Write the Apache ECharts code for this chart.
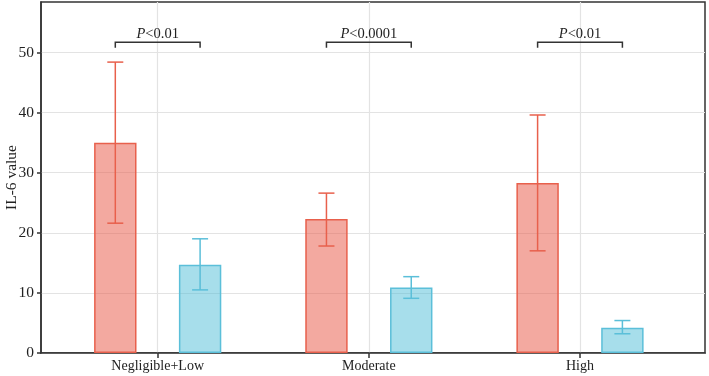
<!DOCTYPE html>
<html>
<head>
<meta charset="utf-8">
<script src="https://cdn.jsdelivr.net/npm/echarts@6/dist/echarts.min.js"></script>
<style>
  html, body { margin: 0; padding: 0; background: #fff; }
  #main { width: 709px; height: 376px; }
</style>
</head>
<body>
<div id="main"></div>
<script>
// data
var categories = ['Negligible+Low', 'Moderate', 'High'];
var redMean = [35.0, 22.3, 28.3];
var redLow = [21.6, 17.8, 17.0];
var redHigh = [48.4, 26.6, 39.6];
var blueMean = [14.7, 10.9, 4.2];
var blueLow = [10.5, 9.1, 3.2];
var blueHigh = [19.0, 12.7, 5.4];
var pLabels = ['<0.01', '<0.0001', '<0.01'];
var bracketY = [51.7, 51.7, 51.7];
var yTicks = [0, 10, 20, 30, 40, 50];

var BAR_W = 42.4;
var RED = '#e8604c', BLUE = '#5bbfd9';
var FONT = 'Liberation Serif';
var Y_MAX = 58.4;

var chart = echarts.init(document.getElementById('main'));

function errData(lo, hi) {
  return categories.map(function (c, i) { return [i, lo[i], hi[i]]; });
}

function errorBar(offset, color) {
  return function (params, api) {
    var x = api.coord([api.value(0), 0])[0] + offset;
    var lo = api.coord([api.value(0), api.value(1)])[1];
    var hi = api.coord([api.value(0), api.value(2)])[1];
    var st = { stroke: color, lineWidth: 1.5 };
    return {
      type: 'group',
      children: [
        { type: 'line', shape: { x1: x, y1: lo, x2: x, y2: hi }, style: st },
        { type: 'line', shape: { x1: x - 8, y1: hi, x2: x + 8, y2: hi }, style: st },
        { type: 'line', shape: { x1: x - 8, y1: lo, x2: x + 8, y2: lo }, style: st }
      ]
    };
  };
}

var option = {
  animation: false,
  grid: [
    { left: 41, right: 4, top: 2, bottom: 23, show: true, borderColor: '#333', borderWidth: 1.5,
      outerBoundsMode: 'none', containLabel: false },
    { left: 157.7, right: 129, top: 2, bottom: 23, outerBoundsMode: 'none', containLabel: false }
  ],
  xAxis: [
    {
      gridIndex: 0, type: 'value', min: 0, max: 1,
      axisLine: { show: true, onZero: false, lineStyle: { color: '#333', width: 1.5 } },
      axisTick: { show: false }, axisLabel: { show: false }, splitLine: { show: false }
    },
    {
      gridIndex: 1, type: 'category', data: categories, boundaryGap: false,
      axisLine: { show: false },
      axisTick: { show: true, length: 5, lineStyle: { color: '#333', width: 1.5 } },
      axisLabel: { color: '#222', fontFamily: FONT, fontSize: 14, margin: 6 },
      splitLine: { show: true, lineStyle: { color: '#e3e3e3', width: 1.2 } }
    }
  ],
  yAxis: [
    {
      gridIndex: 0, type: 'value', min: 0, max: Y_MAX, interval: 10,
      name: 'IL-6 value', nameLocation: 'middle', nameGap: 21, nameMoveOverlap: false,
      nameTextStyle: { color: '#222', fontFamily: FONT, fontSize: 15.5 },
      axisLine: { show: true, lineStyle: { color: '#333', width: 1.5 } },
      axisTick: { show: true, length: 4, lineStyle: { color: '#333', width: 1.5 } },
      axisLabel: {
        color: '#222', fontFamily: FONT, fontSize: 15.5, margin: 7, showMaxLabel: false,
        formatter: function (v) { return yTicks.indexOf(v) >= 0 ? v : ''; }
      },
      splitLine: { show: true, showMaxLine: false, lineStyle: { color: '#e3e3e3', width: 1.2 } }
    },
    {
      gridIndex: 1, type: 'value', min: 0, max: Y_MAX,
      axisLine: { show: false }, axisTick: { show: false },
      axisLabel: { show: false }, splitLine: { show: false }
    }
  ],
  series: [
    {
      type: 'bar', xAxisIndex: 1, yAxisIndex: 1, data: redMean,
      barWidth: BAR_W, barGap: '100%', clip: false,
      itemStyle: { color: 'rgba(232,90,72,0.52)', borderColor: RED, borderWidth: 1.5 }
    },
    {
      type: 'bar', xAxisIndex: 1, yAxisIndex: 1, data: blueMean,
      barWidth: BAR_W, barGap: '100%', clip: false,
      itemStyle: { color: 'rgba(80,190,215,0.5)', borderColor: BLUE, borderWidth: 1.5 }
    },
    {
      type: 'custom', xAxisIndex: 1, yAxisIndex: 1, z: 5, clip: false,
      data: errData(redLow, redHigh), renderItem: errorBar(-BAR_W, RED)
    },
    {
      type: 'custom', xAxisIndex: 1, yAxisIndex: 1, z: 5, clip: false,
      data: errData(blueLow, blueHigh), renderItem: errorBar(BAR_W, BLUE)
    },
    {
      type: 'custom', xAxisIndex: 1, yAxisIndex: 1, z: 6, clip: false,
      data: categories.map(function (c, i) { return [i, bracketY[i]]; }),
      renderItem: function (params, api) {
        var p = api.coord([api.value(0), api.value(1)]);
        var x1 = p[0] - BAR_W, x2 = p[0] + BAR_W, y = p[1];
        var st = { stroke: '#333', lineWidth: 1.5, fill: null };
        return {
          type: 'group',
          children: [
            { type: 'polyline', shape: { points: [[x1, y + 5.5], [x1, y], [x2, y], [x2, y + 5.5]] }, style: st },
            {
              type: 'text',
              style: {
                x: p[0], y: y - 1, text: '{i|P}' + pLabels[params.dataIndex],
                align: 'center', verticalAlign: 'bottom',
                fill: '#222', font: '14.5px "' + FONT + '"',
                rich: { i: { fontStyle: 'italic', fontFamily: FONT, fontSize: 14.5, fill: '#222' } }
              }
            }
          ]
        };
      }
    }
  ]
};

chart.setOption(option);
window.addEventListener('resize', function () { chart.resize(); });
</script>
</body>
</html>
